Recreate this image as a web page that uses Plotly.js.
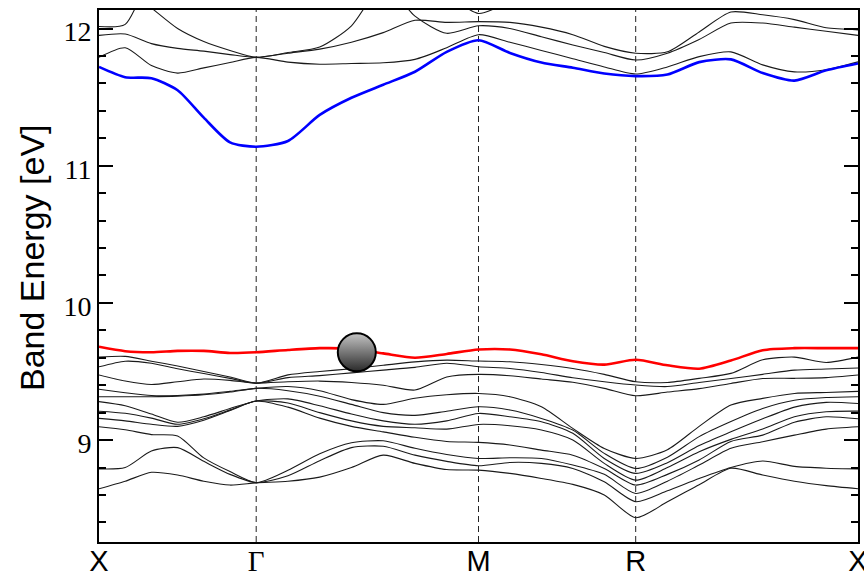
<!DOCTYPE html>
<html>
<head>
<meta charset="utf-8">
<script src="https://cdn.plot.ly/plotly-3.0.1.min.js"></script>
<style>html,body{margin:0;padding:0;background:#fff;}#chart{width:864px;height:577px;}</style>
</head>
<body>
<div id="chart"></div>
<script>
// k-path sample positions (X-Γ-M-R-X, simple cubic)
const kPath = [0, 0.0833, 0.1667, 0.25, 0.3333, 0.4167, 0.5,
  0.601, 0.702, 0.803, 0.904, 1.005, 1.106, 1.2071,
  1.3071, 1.4071, 1.5071, 1.6071, 1.7071,
  1.808, 1.909, 2.010, 2.111, 2.212, 2.313, 2.4142];
const kTicks = [0, 0.5, 1.2071, 1.7071, 2.4142];
const kLabels = ["X", "Γ", "M", "R", "X"];
const eTicks = [9, 10, 11, 12];

// highlighted bands
const bandRed = [9.68, 9.648, 9.64, 9.65, 9.65, 9.635, 9.64,
  9.657, 9.67, 9.665, 9.632, 9.60, 9.628, 9.66,
  9.66, 9.625, 9.575, 9.55, 9.585,
  9.545, 9.52, 9.58, 9.655, 9.67, 9.67, 9.67];
const bandBlue = [11.72, 11.645, 11.638, 11.55, 11.35, 11.17, 11.138,
  11.18, 11.37, 11.495, 11.59, 11.685, 11.83, 11.915,
  11.822, 11.752, 11.714, 11.672, 11.653,
  11.665, 11.755, 11.775, 11.675, 11.62, 11.695, 11.745];

// lower (valence) bands
const v1 = [9.605, 9.61, 9.575, 9.54, 9.50, 9.46, 9.415, 9.475, 9.50, 9.52, 9.545, 9.57, 9.583, 9.576, 9.571, 9.551, 9.522, 9.479, 9.425, 9.42, 9.45, 9.486, 9.585, 9.605, 9.566, 9.605];
const v2 = [9.534, 9.575, 9.56, 9.52, 9.485, 9.45, 9.415, 9.455, 9.47, 9.49, 9.51, 9.53, 9.56, 9.535, 9.522, 9.493, 9.454, 9.425, 9.401, 9.39, 9.42, 9.449, 9.479, 9.51, 9.518, 9.525];
const v3 = [9.474, 9.43, 9.405, 9.425, 9.445, 9.435, 9.415, 9.425, 9.43, 9.42, 9.40, 9.365, 9.46, 9.479, 9.469, 9.445, 9.421, 9.377, 9.323, 9.35, 9.375, 9.413, 9.449, 9.45, 9.455, 9.474];
const v4 = [9.37, 9.345, 9.325, 9.325, 9.335, 9.355, 9.377, 9.39, 9.36, 9.295, 9.26, 9.305, 9.33, 9.34, 9.316, 9.243, 9.085, 8.939, 8.866, 8.93, 9.10, 9.255, 9.304, 9.34, 9.347, 9.355];
const v5 = [9.316, 9.316, 9.316, 9.32, 9.33, 9.35, 9.377, 9.36, 9.32, 9.26, 9.20, 9.18, 9.21, 9.243, 9.219, 9.158, 9.073, 8.903, 8.793, 8.875, 9.025, 9.135, 9.23, 9.29, 9.31, 9.316];
const v6 = [9.28, 9.25, 9.19, 9.13, 9.17, 9.23, 9.285, 9.30, 9.25, 9.19, 9.14, 9.115, 9.14, 9.194, 9.17, 9.134, 9.049, 8.866, 8.757, 8.835, 8.96, 9.06, 9.155, 9.24, 9.275, 9.267];
const v7 = [9.21, 9.195, 9.16, 9.115, 9.155, 9.22, 9.285, 9.27, 9.20, 9.14, 9.10, 9.09, 9.08, 9.114, 9.104, 9.073, 9.0, 8.83, 8.708, 8.80, 8.915, 9.005, 9.08, 9.17, 9.207, 9.211];
const v8 = [9.158, 9.14, 9.115, 9.10, 9.145, 9.215, 9.285, 9.24, 9.16, 9.10, 9.06, 9.02, 8.99, 8.983, 8.964, 8.927, 8.89, 8.793, 8.672, 8.75, 8.855, 8.99, 9.036, 9.13, 9.17, 9.155];
const v9 = [9.097, 9.075, 9.04, 9.03, 8.87, 8.77, 8.69, 8.78, 8.90, 8.98, 8.995, 8.94, 8.895, 8.866, 8.871, 8.866, 8.818, 8.75, 8.611, 8.70, 8.818, 8.94, 8.988, 9.036, 9.08, 9.097];
const v10 = [8.79, 8.80, 8.92, 8.945, 8.845, 8.75, 8.69, 8.74, 8.85, 8.945, 8.955, 8.89, 8.845, 8.813, 8.837, 8.83, 8.793, 8.696, 8.551, 8.63, 8.72, 8.80, 8.847, 8.808, 8.795, 8.79];
const v11 = [8.645, 8.70, 8.765, 8.745, 8.70, 8.672, 8.688, 8.70, 8.73, 8.80, 8.89, 8.83, 8.785, 8.781, 8.757, 8.72, 8.677, 8.60, 8.434, 8.55, 8.675, 8.795, 8.745, 8.70, 8.668, 8.645];

// upper (conduction) bands
const c1 = [11.79, 11.86, 11.73, 11.675, 11.713, 11.752, 11.79, 11.755, 11.74, 11.745, 11.75, 11.775, 11.86, 11.955, 11.90, 11.84, 11.78, 11.72, 11.668, 11.72, 11.795, 11.83, 11.735, 11.684, 11.70, 11.757];
const c2 = [11.95, 11.96, 11.89, 11.855, 11.835, 11.81, 11.79, 11.82, 11.85, 11.90, 11.97, 12.06, 12.045, 12.05, 12.045, 12.01, 11.955, 11.87, 11.82, 11.83, 11.975, 12.12, 12.10, 12.065, 12.005, 11.99];
const c3 = [12.45, 12.3, 12.15, 12.0, 11.905, 11.84, 11.79, 11.825, 11.865, 12.02, 12.35, 12.5, 12.55, 12.55, 12.55, 12.5, 12.45, 12.4, 12.4, 12.4, 12.45, 12.5, 12.5, 12.45, 12.45, 12.45];
const c4 = [12.7, 12.7, 12.65, 12.6, 12.6, 12.55, 12.5, 12.5, 12.45, 12.4, 12.35, 12.09, 11.965, 12.02, 12.0, 11.94, 11.88, 11.825, 11.77, 11.82, 11.92, 12.04, 12.04, 12.01, 11.98, 11.95];
const c5 = [12.015, 12.03, 12.4, 12.6, 12.7, 12.75, 12.8, 12.75, 12.7, 12.6, 12.5, 12.4, 12.25, 12.11, 12.2, 12.35, 12.5, 12.6, 12.65, 12.65, 12.65, 12.6, 12.55, 12.5, 12.45, 12.4];

// marked state (ball)
const ballK = [0.82];
const ballE = [9.64];

const yTitle = 'Band Energy [eV]';

const blackBands = [v1, v2, v3, v4, v5, v6, v7, v8, v9, v10, v11, c1, c2, c3, c4, c5];

const traces = [];
blackBands.forEach(function (b) {
  traces.push({x: kPath, y: b, type: 'scatter', mode: 'lines', hoverinfo: 'skip',
    line: {color: '#1a1a1a', width: 1.1, shape: 'spline', smoothing: 0.7}, showlegend: false});
});
traces.push({x: kPath, y: bandRed, type: 'scatter', mode: 'lines', showlegend: false,
  line: {color: '#ff0000', width: 2.6, shape: 'spline', smoothing: 0.7}});
traces.push({x: kPath, y: bandBlue, type: 'scatter', mode: 'lines', showlegend: false,
  line: {color: '#0000ff', width: 2.6, shape: 'spline', smoothing: 0.7}});
traces.push({x: ballK, y: ballE, type: 'scatter', mode: 'markers', showlegend: false, cliponaxis: false,
  marker: {size: 38, color: '#c4c4c4', gradient: {type: 'vertical', color: '#2a2a2a'},
    line: {color: '#000', width: 2}}});

const shapes = kTicks.slice(1, 4).map(function (k) {
  return {type: 'line', xref: 'x', yref: 'paper', x0: k, x1: k, y0: 0, y1: 1,
    line: {color: '#222', width: 1, dash: '6px,4px'}, layer: 'below'};
});

const tickText = kLabels.map(function (s) {
  return s === 'Γ' ? "<span style=\"font-family:'Liberation Serif',serif\">Γ</span>" : s;
});

const layout = {
  width: 864, height: 577,
  margin: {l: 99, r: 6, t: 10, b: 35},
  paper_bgcolor: '#fff', plot_bgcolor: '#fff',
  showlegend: false,
  xaxis: {
    range: [0, 2.4142], tickmode: 'array', tickvals: kTicks, ticktext: tickText,
    ticks: '', showgrid: false, zeroline: false,
    showline: true, mirror: true, linecolor: '#000', linewidth: 2,
    ticklabeloverflow: 'allow', ticklabelstandoff: -8,
    tickfont: {family: 'Liberation Sans, Arial, sans-serif', size: 29, color: '#000'}
  },
  yaxis: {
    range: [8.257, 12.135], tickmode: 'array', tickvals: eTicks,
    ticks: 'inside', ticklen: 14, tickwidth: 2, tickcolor: '#000',
    minor: {tick0: 9, dtick: 0.2, ticks: 'inside', ticklen: 7, tickwidth: 2, tickcolor: '#000', showgrid: false},
    showgrid: false, zeroline: false,
    showline: true, mirror: 'ticks', linecolor: '#000', linewidth: 2,
    tickfont: {family: 'Liberation Serif, Times New Roman, serif', size: 28, color: '#000'},
    ticklabelshift: 3
  },
  annotations: [{
    text: yTitle, xref: 'paper', yref: 'paper', x: -0.0883, y: 0.5357,
    xanchor: 'center', yanchor: 'middle', textangle: -90, showarrow: false,
    font: {family: 'Liberation Sans, Arial, sans-serif', size: 34, color: '#000'}
  }],
  shapes: shapes
};

Plotly.newPlot('chart', traces, layout, {displayModeBar: false, staticPlot: true});
</script>
</body>
</html>
